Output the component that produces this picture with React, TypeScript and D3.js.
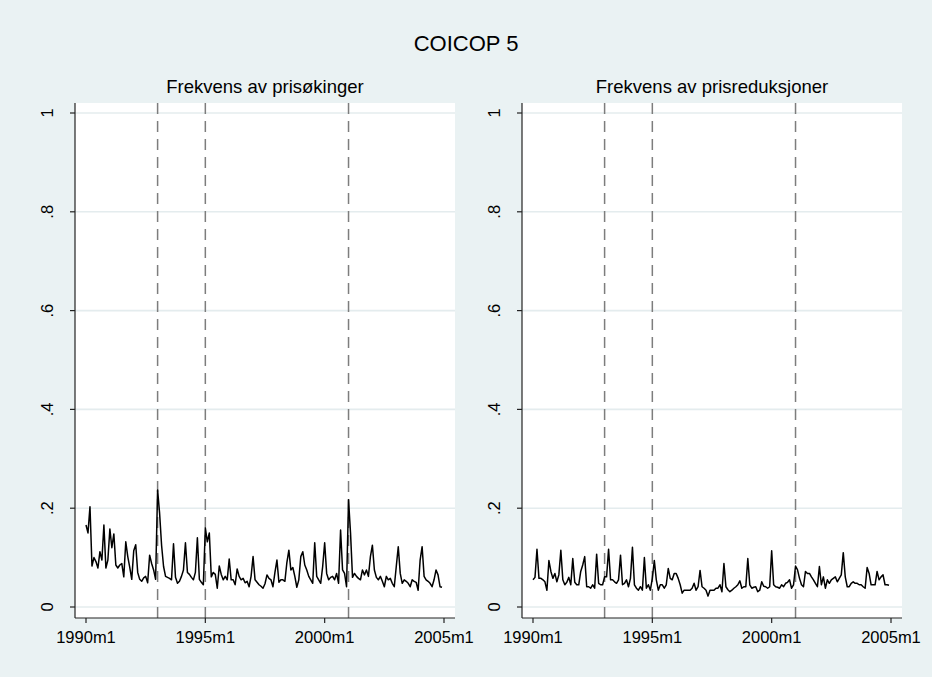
import React from "react";
import * as d3 from "d3";

// ---- Data (monthly, 1990m1 .. 2004m12) ----
const title = "COICOP 5";
const panelTitles = ["Frekvens av prisøkinger", "Frekvens av prisreduksjoner"];
const xTickMonths = [0, 60, 120, 180];
const xTickLabels = ["1990m1", "1995m1", "2000m1", "2005m1"];
const yTicks = [0, 0.2, 0.4, 0.6, 0.8, 1];
const yTickLabels = ["0", ".2", ".4", ".6", ".8", "1"];
const refLineMonths = [36, 60, 132]; // 1993m1, 1995m1, 2001m1

const increases: number[] = [
  // 1990
  0.166, 0.150, 0.203, 0.083, 0.100, 0.092, 0.079, 0.112, 0.095, 0.166, 0.079, 0.095,
  // 1991
  0.158, 0.120, 0.148, 0.085, 0.079, 0.085, 0.088, 0.061, 0.132, 0.102, 0.080, 0.056,
  // 1992
  0.114, 0.126, 0.070, 0.056, 0.052, 0.059, 0.062, 0.049, 0.105, 0.088, 0.075, 0.056,
  // 1993
  0.237, 0.190, 0.125, 0.082, 0.062, 0.060, 0.058, 0.055, 0.128, 0.060, 0.048, 0.052,
  // 1994
  0.062, 0.075, 0.130, 0.070, 0.066, 0.060, 0.055, 0.070, 0.140, 0.056, 0.050, 0.045,
  // 1995
  0.160, 0.132, 0.150, 0.061, 0.070, 0.066, 0.038, 0.083, 0.066, 0.055, 0.062, 0.055,
  // 1996
  0.097, 0.055, 0.055, 0.045, 0.077, 0.062, 0.055, 0.058, 0.049, 0.052, 0.041, 0.062,
  // 1997
  0.102, 0.055, 0.050, 0.045, 0.042, 0.038, 0.047, 0.065, 0.058, 0.055, 0.041, 0.070,
  // 1998
  0.095, 0.050, 0.055, 0.055, 0.052, 0.090, 0.115, 0.075, 0.080, 0.062, 0.040, 0.055,
  // 1999
  0.102, 0.112, 0.085, 0.075, 0.062, 0.055, 0.048, 0.130, 0.062, 0.055, 0.048, 0.082,
  // 2000
  0.130, 0.068, 0.055, 0.060, 0.062, 0.055, 0.068, 0.048, 0.156, 0.075, 0.068, 0.041,
  // 2001
  0.217, 0.150, 0.060, 0.068, 0.062, 0.058, 0.055, 0.075, 0.065, 0.075, 0.062, 0.102,
  // 2002
  0.125, 0.075, 0.060, 0.055, 0.062, 0.052, 0.041, 0.062, 0.055, 0.058, 0.048, 0.041,
  // 2003
  0.082, 0.122, 0.068, 0.048, 0.055, 0.052, 0.048, 0.041, 0.055, 0.052, 0.050, 0.034,
  // 2004
  0.095, 0.122, 0.062, 0.055, 0.052, 0.048, 0.041, 0.055, 0.075, 0.065, 0.041, 0.040,
];

const reductions: number[] = [
  // 1990
  0.055, 0.060, 0.117, 0.058, 0.058, 0.055, 0.051, 0.034, 0.094, 0.072, 0.058, 0.068,
  // 1991
  0.051, 0.065, 0.115, 0.055, 0.045, 0.050, 0.060, 0.045, 0.098, 0.050, 0.045, 0.045,
  // 1992
  0.072, 0.085, 0.102, 0.041, 0.041, 0.038, 0.045, 0.038, 0.107, 0.048, 0.045, 0.045,
  // 1993
  0.061, 0.061, 0.117, 0.055, 0.055, 0.051, 0.048, 0.055, 0.105, 0.045, 0.048, 0.055,
  // 1994
  0.041, 0.058, 0.121, 0.045, 0.038, 0.034, 0.041, 0.034, 0.100, 0.038, 0.045, 0.034,
  // 1995
  0.058, 0.094, 0.055, 0.034, 0.045, 0.045, 0.038, 0.045, 0.078, 0.058, 0.055, 0.068,
  // 1996
  0.068, 0.058, 0.045, 0.028, 0.034, 0.034, 0.034, 0.034, 0.038, 0.048, 0.034, 0.041,
  // 1997
  0.074, 0.041, 0.038, 0.034, 0.022, 0.034, 0.034, 0.034, 0.038, 0.038, 0.045, 0.031,
  // 1998
  0.088, 0.041, 0.035, 0.031, 0.034, 0.038, 0.041, 0.045, 0.053, 0.038, 0.041, 0.041,
  // 1999
  0.098, 0.045, 0.038, 0.040, 0.041, 0.031, 0.034, 0.051, 0.042, 0.041, 0.038, 0.041,
  // 2000
  0.114, 0.045, 0.041, 0.040, 0.038, 0.045, 0.041, 0.048, 0.050, 0.055, 0.038, 0.045,
  // 2001
  0.083, 0.075, 0.058, 0.045, 0.041, 0.072, 0.068, 0.068, 0.061, 0.055, 0.048, 0.041,
  // 2002
  0.082, 0.045, 0.061, 0.038, 0.055, 0.048, 0.055, 0.058, 0.061, 0.051, 0.058, 0.065,
  // 2003
  0.110, 0.061, 0.041, 0.041, 0.048, 0.051, 0.048, 0.048, 0.045, 0.045, 0.041, 0.038,
  // 2004
  0.080, 0.068, 0.045, 0.045, 0.045, 0.072, 0.055, 0.061, 0.065, 0.045, 0.045, 0.044,
];

const seriesList = [increases, reductions];

// ---- Layout ----
const W = 932;
const H = 677;
const BG = "#eaf2f3";
const FONT = "'Liberation Sans', Arial, Helvetica, sans-serif";
const panelLefts = [75, 522];
const panelWidth = 380;
const plotTop = 103;
const plotBottom = 618;
const inset = 11;

function Panel({ idx }: { idx: number }) {
  const left = panelLefts[idx];
  const right = left + panelWidth;
  const x = d3.scaleLinear().domain([0, 180]).range([left + inset, right - inset]);
  const y = d3.scaleLinear().domain([0, 1]).range([plotBottom - 11, plotTop + 10]);
  const data = seriesList[idx];
  const line = d3
    .line<number>()
    .x((_, i) => x(i))
    .y((d) => y(d));
  return (
    <g>
      <rect x={left} y={plotTop} width={panelWidth} height={plotBottom - plotTop} fill="#ffffff" />
      {yTicks.map((t) => (
        <line key={"g" + t} x1={left} x2={right} y1={y(t)} y2={y(t)} stroke="#e4ecee" strokeWidth={1.6} />
      ))}
      {refLineMonths.map((m) => (
        <line
          key={"r" + m}
          x1={x(m)}
          x2={x(m)}
          y1={plotTop}
          y2={plotBottom}
          stroke="#7d7d7d"
          strokeWidth={1.5}
          strokeDasharray="11,7"
        />
      ))}
      <path d={line(data) || ""} fill="none" stroke="#000000" strokeWidth={1.5} strokeLinejoin="round" />
      {/* axes */}
      <line x1={left} x2={left} y1={plotTop} y2={plotBottom} stroke="#222" strokeWidth={1.2} />
      <line x1={left} x2={right} y1={plotBottom} y2={plotBottom} stroke="#222" strokeWidth={1.2} />
      {yTicks.map((t, i) => (
        <g key={"yt" + t}>
          <line x1={left - 5} x2={left} y1={y(t)} y2={y(t)} stroke="#222" strokeWidth={1.2} />
          <text
            transform={`translate(${left - 22},${y(t)}) rotate(-90)`}
            textAnchor="middle"
            fontFamily={FONT}
            fontSize={16.5}
            fill="#000"
          >
            {yTickLabels[i]}
          </text>
        </g>
      ))}
      {xTickMonths.map((m, i) => (
        <g key={"xt" + m}>
          <line x1={x(m)} x2={x(m)} y1={plotBottom} y2={plotBottom + 5} stroke="#222" strokeWidth={1.2} />
          <text x={x(m)} y={643} textAnchor="middle" fontFamily={FONT} fontSize={16.5} fill="#000">
            {xTickLabels[i]}
          </text>
        </g>
      ))}
      <text
        x={(left + right) / 2}
        y={93}
        textAnchor="middle"
        fontFamily={FONT}
        fontSize={18.5}
        fill="#000"
      >
        {panelTitles[idx]}
      </text>
    </g>
  );
}

export default function App() {
  return (
    <svg
      width={W}
      height={H}
      style={{ position: "absolute", left: 0, top: 0, display: "block" }}
      xmlns="http://www.w3.org/2000/svg"
    >
      <rect x={0} y={0} width={W} height={H} fill={BG} />
      <text x={466} y={51} textAnchor="middle" fontFamily={FONT} fontSize={22} fill="#000">
        {title}
      </text>
      <Panel idx={0} />
      <Panel idx={1} />
    </svg>
  );
}
